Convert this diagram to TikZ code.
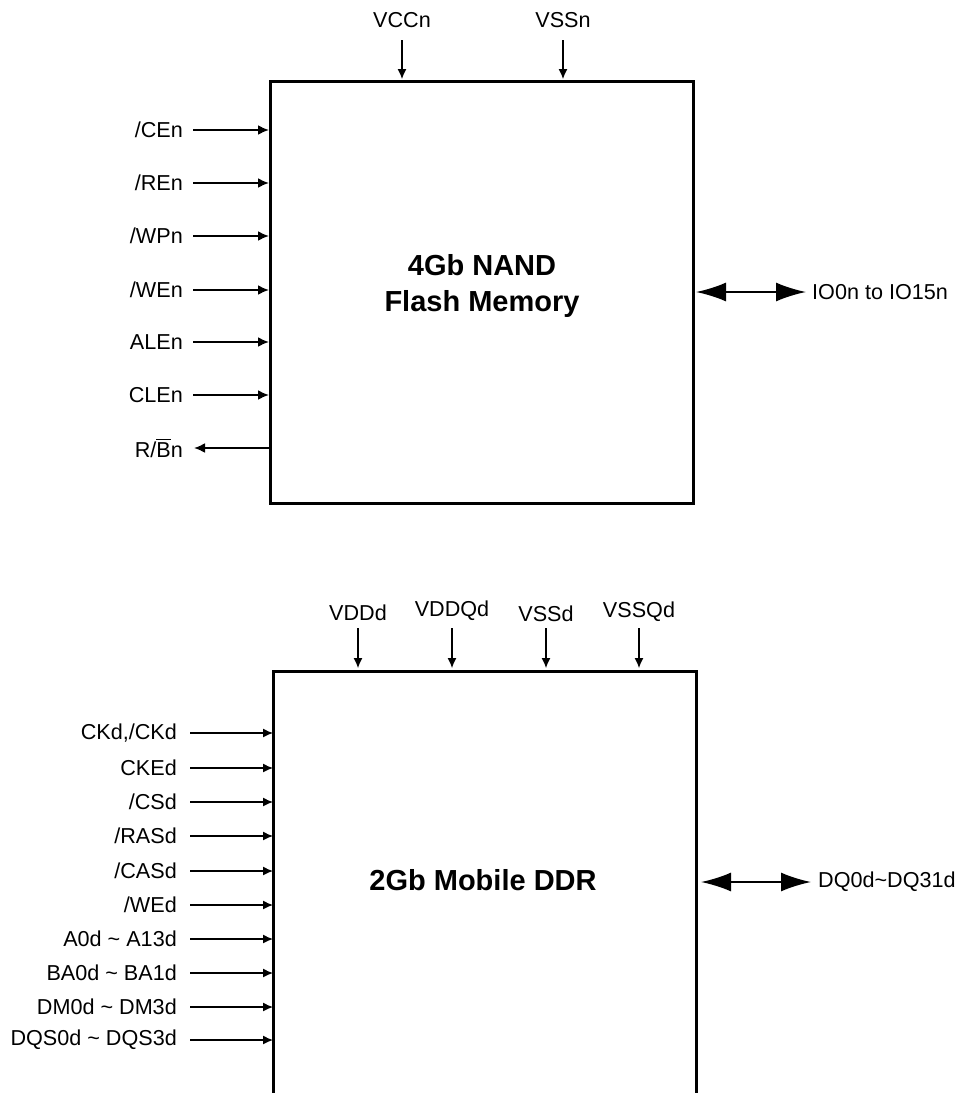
\documentclass[tikz,border=0pt]{standalone}
\usepackage{fontspec}
\setmainfont{Liberation Sans}
\usetikzlibrary{arrows.meta}
\tikzset{
  lbl/.style={inner sep=0pt, font=\fontsize{21.6}{26}\selectfont},
  ttl/.style={inner sep=0pt, align=center, font=\fontsize{29}{36}\selectfont\bfseries},
  chip/.style={line width=3pt},
  nin/.style={line width=2pt, -{Latex[length=11pt,width=10pt]}},
  din/.style={line width=1.3pt, -{Latex[length=10pt,width=9pt]}},
  pwr/.style={line width=1.2pt, -{Latex[length=10pt,width=9pt]}},
  bus/.style={line width=2pt, {Latex[length=30pt,width=19pt]}-{Latex[length=30pt,width=19pt]}}
}
\begin{document}
\begin{tikzpicture}[x=1pt,y=-1pt]
\useasboundingbox (0,0) rectangle (963,1093);
\clip (0,0) rectangle (963,1093);
% ---------- NAND ----------
\draw[chip] (270,81) rectangle (693,503);
\node[ttl] (nandt) at (482,286) {4Gb NAND\\Flash Memory};
% power
\node[lbl] (vcc) at (402,20) {VCCn};
\node[lbl] (vss) at (563,20) {VSSn};
\coordinate (vccS) at (402,40);
\coordinate (vssS) at (563,40);
\coordinate (vccE) at (402,79);
\coordinate (vssE) at (563,79);
\draw[pwr] (vccS) -- (vccE);
\draw[pwr] (vssS) -- (vssE);
% inputs
\foreach \n/\t/\y in {ce/{/CEn}/130, re/{/REn}/183, wp/{/WPn}/236, we/{/WEn}/290, ale/{ALEn}/342, cle/{CLEn}/395}{
  \node[lbl,anchor=east] (n\n) at (183,\y) {\t};
  \coordinate (n\n S) at (193,\y);
  \coordinate (n\n E) at (269,\y);
  \draw[nin] (n\n S) -- (n\n E);
}
\node[lbl,anchor=east] (nrb) at (183,448) {R/\makebox[0pt][l]{\raisebox{0.8em}{\rule{0.667em}{1.3pt}}}Bn};
\coordinate (nrbS) at (270,448);
\coordinate (nrbE) at (194,448);
\draw[nin] (nrbS) -- (nrbE);
% bus
\coordinate (ioA) at (696,292);
\coordinate (ioB) at (806,292);
\draw[bus] (ioA) -- (ioB);
\node[lbl,anchor=west] (io) at (812,292) {IO0n to IO15n};
% ---------- DDR ----------
\draw[chip] (273,1110) -- (273,671) -- (696,671) -- (696,1110);
\node[ttl] (ddrt) at (483,880) {2Gb Mobile DDR};
\foreach \n/\t/\x/\y in {vdd/VDDd/358/613, vddq/VDDQd/452/611, vsss/VSSd/546/614, vssq/VSSQd/639/612}{
  \node[lbl] (d\n) at (\x,\y) {\t};
  \coordinate (d\n S) at (\x,628);
  \coordinate (d\n E) at (\x,668);
  \draw[pwr] (d\n S) -- (d\n E);
}
\foreach \n/\t/\y in {ck/{CKd,/CKd}/733, cke/{CKEd}/768, cs/{/CSd}/802, ras/{/RASd}/836, cas/{/CASd}/871, we/{/WEd}/905, a/{A0d \char`~{} A13d}/939, ba/{BA0d \char`~{} BA1d}/973, dm/{DM0d \char`~{} DM3d}/1007, dqs/{DQS0d \char`~{} DQS3d}/1040}{
  \node[lbl,anchor=east] (d\n) at (177,\y) {\t};
  \coordinate (d\n S) at (190,\y);
  \coordinate (d\n E) at (273,\y);
  \draw[din] (d\n S) -- (d\n E);
}
\coordinate (dqA) at (701,882);
\coordinate (dqB) at (811,882);
\draw[bus] (dqA) -- (dqB);
\node[lbl,anchor=west] (dq) at (818,882) {DQ0d\char`~DQ31d};
\end{tikzpicture}
\end{document}
